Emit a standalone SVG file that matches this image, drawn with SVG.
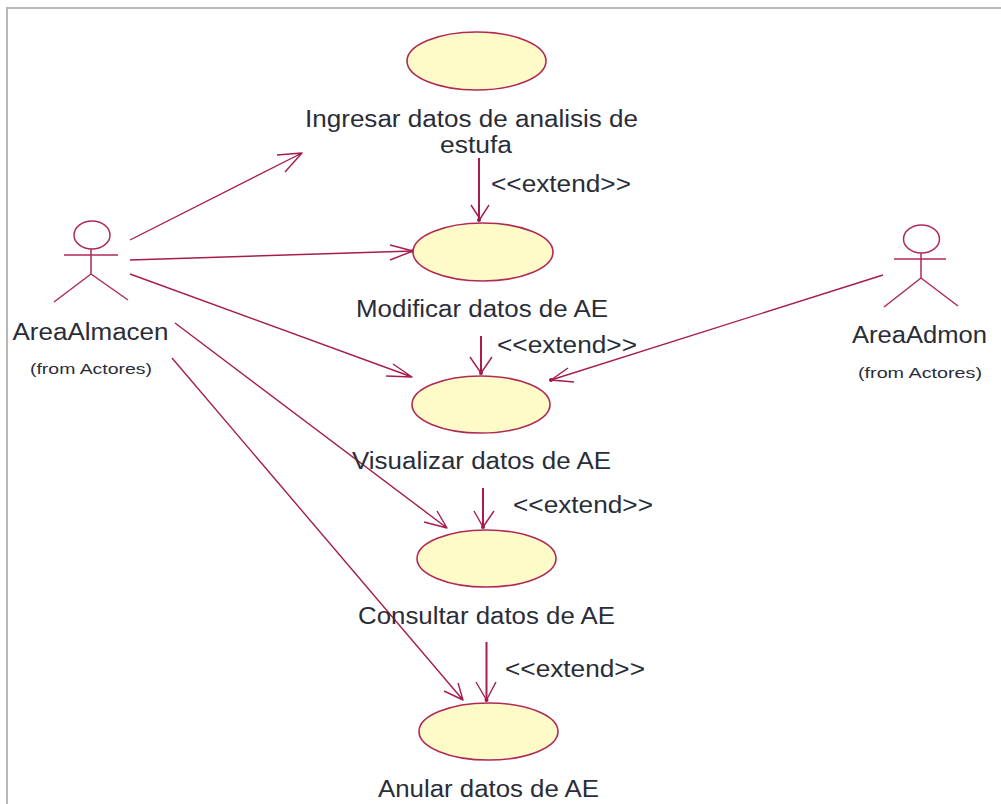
<svg xmlns="http://www.w3.org/2000/svg" width="1001" height="804" viewBox="0 0 1001 804">
<defs><marker id="dot" markerUnits="userSpaceOnUse" markerWidth="6" markerHeight="6" refX="3" refY="3"><circle cx="3" cy="3" r="2" fill="#99173f"/></marker></defs>
<style>
.u{fill:#fffbc8;stroke:#b02a55;stroke-width:1.6}
.a{fill:none;stroke:#b02a55;stroke-width:1.5}
.c{fill:none;stroke:#a61c4b;stroke-width:1.4;stroke-linejoin:round}
.v{stroke-width:2}
text{font-family:"Liberation Sans",Arial,sans-serif;fill:#2a2d38}
.l{font-size:23px;text-anchor:middle}
.s{font-size:15px;text-anchor:middle}
</style>
<rect width="1001" height="804" fill="#fff"/>
<path d="M7 804V8H1001" fill="none" stroke="#b8b8b8" stroke-width="2"/>
<g id="connectors" class="c">
<path d="M130 240L302 153M277 155L302 153L285 172"/>
<path class="v" d="M479 158V220" marker-end="url(#dot)"/><path d="M471 205L480 219L489 205"/>
<path d="M130 260L413 251" marker-end="url(#dot)"/><path d="M390 245L413 251L390 260"/>
<path d="M130 274L412 377M393 364L412 377L386 376"/>
<path class="v" d="M481 336V373" marker-end="url(#dot)"/><path d="M470 357L481 373L492 357"/>
<path d="M883 275L551 380" marker-end="url(#dot)"/><path d="M568 368L551 380L574 382"/>
<path d="M175 323L447 528M437 511L447 528L424 522"/>
<path class="v" d="M483 488V527" marker-end="url(#dot)"/><path d="M474 511L483 527L494 511"/>
<path d="M172 358L463 700M458 683L463 700L444 691"/>
<path class="v" d="M486.500 642V700" marker-end="url(#dot)"/><path d="M476 682L486.500 700L496 682"/>
</g>
<g id="uc1"><ellipse class="u" cx="476.500" cy="61" rx="69.500" ry="29"/><text class="l" x="471.500" y="127" textLength="333" lengthAdjust="spacingAndGlyphs">Ingresar datos de analisis de</text><text class="l" x="476" y="153" textLength="72" lengthAdjust="spacingAndGlyphs">estufa</text></g>
<g id="uc2"><ellipse class="u" cx="483" cy="252" rx="70" ry="29"/><text class="l" x="482" y="317" textLength="252" lengthAdjust="spacingAndGlyphs">Modificar datos de AE</text></g>
<g id="uc3"><ellipse class="u" cx="481" cy="404.500" rx="69" ry="28.500"/><text class="l" x="481.500" y="469" textLength="259" lengthAdjust="spacingAndGlyphs">Visualizar datos de AE</text></g>
<g id="uc4"><ellipse class="u" cx="486.500" cy="558.500" rx="69.500" ry="28.500"/><text class="l" x="486.500" y="624" textLength="257" lengthAdjust="spacingAndGlyphs">Consultar datos de AE</text></g>
<g id="uc5"><ellipse class="u" cx="488.500" cy="731.500" rx="69.500" ry="28.500"/><text class="l" x="488.500" y="797" textLength="221" lengthAdjust="spacingAndGlyphs">Anular datos de AE</text></g>
<g id="e1"><text class="l" x="561" y="192" textLength="140" lengthAdjust="spacingAndGlyphs">&lt;&lt;extend&gt;&gt;</text></g>
<g id="e2"><text class="l" x="567" y="353" textLength="140" lengthAdjust="spacingAndGlyphs">&lt;&lt;extend&gt;&gt;</text></g>
<g id="e3"><text class="l" x="583" y="513" textLength="140" lengthAdjust="spacingAndGlyphs">&lt;&lt;extend&gt;&gt;</text></g>
<g id="e4"><text class="l" x="575" y="677" textLength="140" lengthAdjust="spacingAndGlyphs">&lt;&lt;extend&gt;&gt;</text></g>
<g id="actor1"><ellipse class="a" cx="92" cy="235" rx="18" ry="14"/><path class="a" d="M91 249V274M64 255H118M91 274L54 302M91 274L128 300"/><text class="l" x="90.500" y="340" textLength="156" lengthAdjust="spacingAndGlyphs">AreaAlmacen</text><text class="s" x="91" y="374" textLength="122" lengthAdjust="spacingAndGlyphs">(from Actores)</text></g>
<g id="actor2"><ellipse class="a" cx="921.500" cy="239" rx="18" ry="14"/><path class="a" d="M921 253V278M894 259H946M921 278L884 307M921 278L958 306"/><text class="l" x="919.500" y="343" textLength="135" lengthAdjust="spacingAndGlyphs">AreaAdmon</text><text class="s" x="920" y="378" textLength="124" lengthAdjust="spacingAndGlyphs">(from Actores)</text></g>
</svg>
